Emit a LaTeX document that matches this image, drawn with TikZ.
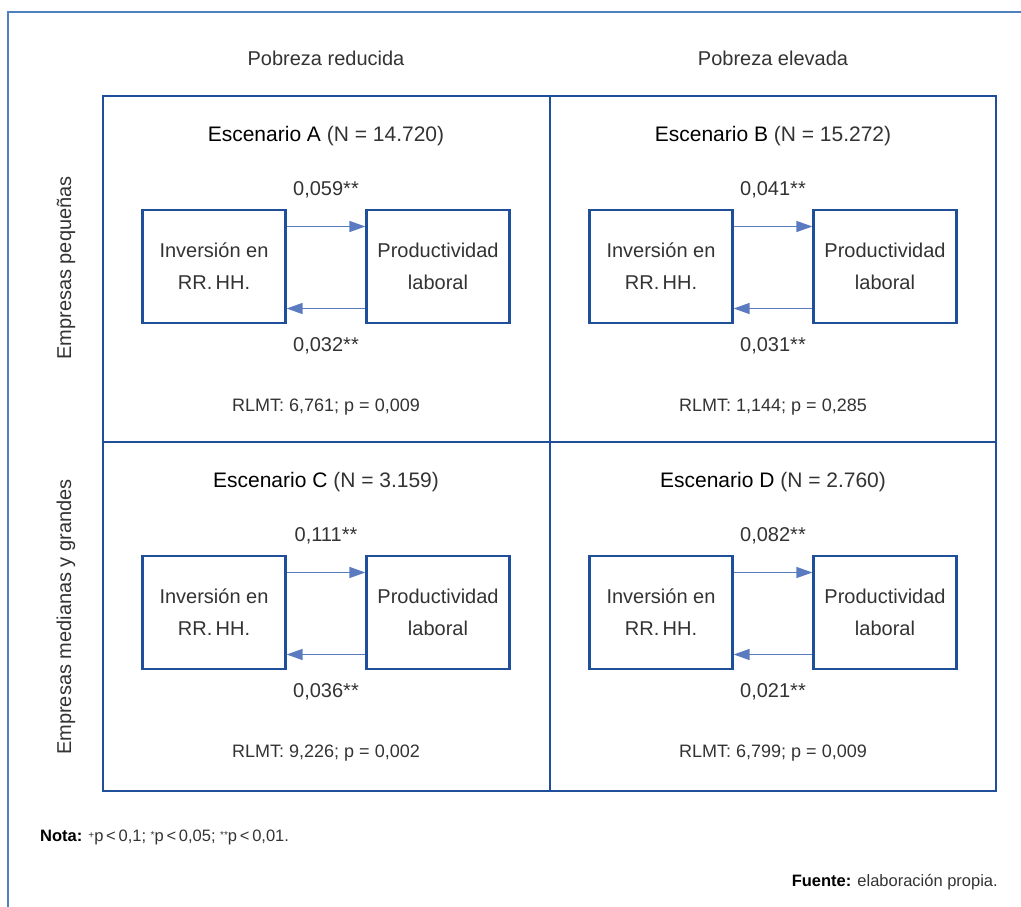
\documentclass[tikz,border=0pt]{standalone}
\usepackage{fontspec}
\setmainfont{Liberation Sans}
\usepackage{tikz}
\usetikzlibrary{shapes}
\usetikzlibrary{arrows.meta}

\definecolor{gridblue}{HTML}{1F4E9A}
\definecolor{frameblue}{HTML}{4F81BD}
\definecolor{arrowblue}{HTML}{5B7BC0}
\definecolor{txtgray}{HTML}{333333}

\newcommand{\sig}[1]{\raisebox{2.5pt}{\fontsize{10}{10}\selectfont #1}}

\begin{document}
\begin{tikzpicture}[x=1pt,y=-1pt]
			\tikzstyle{varbox}=[rectangle,draw=gridblue,line width=2.2pt,minimum width=143pt,minimum height=113pt,align=center,text=txtgray,font=\fontsize{20}{32}\selectfont]
			\tikzstyle{txt}=[text=txtgray,font=\fontsize{20}{24}\selectfont]
			\tikzstyle{head}=[text=txtgray,font=\fontsize{21}{24}\selectfont]
			\tikzstyle{small}=[text=txtgray,font=\fontsize{18}{22}\selectfont]
			\tikzstyle{note}=[text=txtgray,inner sep=0pt,font=\fontsize{16.5}{18}\selectfont]
			\tikzstyle{effect}=[draw=arrowblue,line width=1.3pt,-{Triangle[length=16pt,width=11pt]}]
			
			\useasboundingbox (0,0) rectangle (1021,907);
			\draw[frameblue,line width=2pt] (8,907) -- (8,12) -- (1021,12);
			\draw[gridblue,line width=1.5pt] (103,96) rectangle (996,791) (550,96) -- (550,791) (103,442) -- (996,442);
			
			\node[txt] (colA) at (326,58) {Pobreza reducida};
			\node[txt] (colB) at (773,58) {Pobreza elevada};
			\node[txt,rotate=90] (rowA) at (66,268) {Empresas pequeñas};
			\node[txt,rotate=90] (rowB) at (66,617) {Empresas medianas y grandes};
			
			\foreach \s/\cx/\cy/\n/\up/\dn/\rl/\p in {A/326/96/{14.720}/{0,059}/{0,032}/{6,761}/{0,009},
				B/773/96/{15.272}/{0,041}/{0,031}/{1,144}/{0,285},
				C/326/442/{3.159}/{0,111}/{0,036}/{9,226}/{0,002},
				D/773/442/{2.760}/{0,082}/{0,021}/{6,799}/{0,009}}
			{
				\node[head] (tit\s) at (\cx,\cy+40) {\textcolor{black}{Escenario \s} (N = \n)};
				\node[varbox] (inv\s) at (\cx-112,\cy+170.5) {Inversión en\\RR.\,HH.};
				\node[varbox] (prod\s) at (\cx+112,\cy+170.5) {Productividad\\laboral};
				\draw[effect] ([yshift=40pt]inv\s.east) -- ([yshift=40pt]prod\s.west);
				\draw[effect] ([yshift=-42pt]prod\s.west) -- ([yshift=-42pt]inv\s.east);
				\node[txt] (up\s) at (\cx,\cy+94) {\up**};
				\node[txt] (dn\s) at (\cx,\cy+250) {\dn**};
				\node[small] (rl\s) at (\cx,\cy+311) {RLMT: \rl; p = \p};
			}
			
			\node[note,anchor=base west] (nota) at (40,841) {\textcolor{black}{\textbf{Nota:}} \sig{+}p\,<\,0,1; \sig{*}p\,<\,0,05; \sig{**}p\,<\,0,01.};
			\node[note,anchor=base east] (fuente) at (998,886) {\textcolor{black}{\textbf{Fuente:}} elaboración propia.};
\end{tikzpicture}
\end{document}
